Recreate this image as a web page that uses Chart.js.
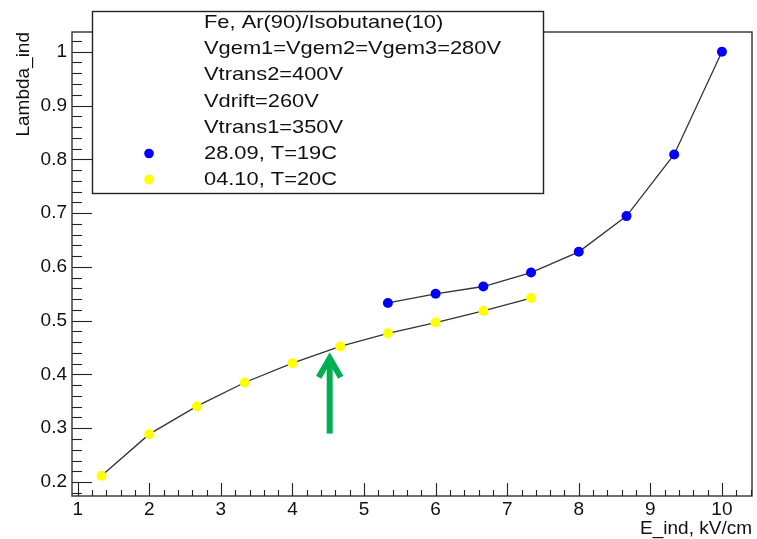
<!DOCTYPE html>
<html>
<head>
<meta charset="utf-8">
<script src="https://cdn.jsdelivr.net/npm/chart.js@4"></script>
<style>
html,body{margin:0;padding:0;background:#fff;}
#wrap{width:757px;height:539px;}
</style>
</head>
<body>
<div id="wrap"><canvas id="c" width="757" height="539"></canvas></div>
<script>
// ---- data ----
const xYellow = [1.333, 2, 2.667, 3.333, 4, 4.667, 5.333, 6, 6.667, 7.333];
const yYellow = [0.2115, 0.289, 0.341, 0.385, 0.421, 0.452, 0.4765, 0.4965, 0.518, 0.542];
const xBlue = [5.333, 6, 6.667, 7.333, 8, 8.667, 9.333, 10];
const yBlue = [0.533, 0.550, 0.5635, 0.5895, 0.628, 0.6944, 0.809, 1.0];
const xTickValues = [1, 2, 3, 4, 5, 6, 7, 8, 9, 10];
const yTickValues = [0.2, 0.3, 0.4, 0.5, 0.6, 0.7, 0.8, 0.9, 1.0];
const yTickLabels = ["0.2", "0.3", "0.4", "0.5", "0.6", "0.7", "0.8", "0.9", "1"];
const legendLines = ["Fe, Ar(90)/Isobutane(10)", "Vgem1=Vgem2=Vgem3=280V", "Vtrans2=400V", "Vdrift=260V", "Vtrans1=350V", "28.09, T=19C", "04.10, T=20C"];
const seriesNames = ["28.09, T=19C", "04.10, T=20C"];
const arrowX = [4.52, 4.52];
const arrowY = [0.290, 0.430];
const xTitle = "E_ind, kV/cm";
const yTitle = "Lambda_ind";

const FONT = "'Liberation Sans', Arial, sans-serif";
const toPts = (xs, ys) => xs.map((x, i) => ({x: x, y: ys[i]}));

const rootPlugin = {
  id: 'rootDecor',
  afterDatasetsDraw(chart) {
    const ctx = chart.ctx;
    const xs = chart.scales.x, ys = chart.scales.y;
    const a = chart.chartArea;
    ctx.save();
    // frame
    ctx.strokeStyle = '#333';
    ctx.lineWidth = 1.4;
    ctx.strokeRect(a.left, a.top, a.right - a.left, a.bottom - a.top);
    // ticks (inside)
    ctx.lineWidth = 1.1;
    ctx.strokeStyle = '#222';
    // y ticks
    const yMin = ys.min, yMax = ys.max;
    for (let k = Math.ceil(yMin * 50 - 1e-6); k <= Math.floor(yMax * 50 + 1e-6); k++) {
      const v = k / 50;
      const major = (k % 5 === 0);
      const p = Math.round(ys.getPixelForValue(v)) + 0.5;
      ctx.beginPath();
      ctx.moveTo(a.left, p);
      ctx.lineTo(a.left + (major ? 20 : 10), p);
      ctx.stroke();
    }
    // x ticks
    for (let k = Math.ceil(xs.min * 5 - 1e-6); k <= Math.floor(xs.max * 5 + 1e-6); k++) {
      const v = k / 5;
      const major = (k % 5 === 0);
      const p = Math.round(xs.getPixelForValue(v)) + 0.5;
      ctx.beginPath();
      ctx.moveTo(p, a.bottom);
      ctx.lineTo(p, a.bottom - (major ? 13 : 6));
      ctx.stroke();
    }
    // green arrow
    const ax = xs.getPixelForValue(arrowX[0]);
    const ay0 = ys.getPixelForValue(arrowY[0]);
    const ay1 = ys.getPixelForValue(arrowY[1]);
    ctx.strokeStyle = '#00b050';
    ctx.lineWidth = 6;
    ctx.lineCap = 'butt';
    ctx.lineJoin = 'miter';
    ctx.beginPath();
    ctx.moveTo(ax, ay0);
    ctx.lineTo(ax, ay1 + 2);
    ctx.stroke();
    ctx.beginPath();
    ctx.moveTo(ax - 11, ay1 + 19);
    ctx.lineTo(ax, ay1);
    ctx.lineTo(ax + 11, ay1 + 19);
    ctx.stroke();
    // legend box
    const L = 92.5, T = 11.5, W = 451, H = 182;
    ctx.fillStyle = '#fff';
    ctx.fillRect(L, T, W, H);
    ctx.strokeStyle = '#222';
    ctx.lineWidth = 1.4;
    ctx.strokeRect(L, T, W, H);
    ctx.fillStyle = '#111';
    ctx.textBaseline = 'middle';
    ctx.textAlign = 'left';
    ctx.font = '19px ' + FONT;
    legendLines.forEach((t, i) => {
      const cy = 23 + i * 26.1;
      ctx.save();
      ctx.translate(204, cy);
      ctx.scale(1.15, 1);
      ctx.fillText(t, 0, 0);
      ctx.restore();
    });
    // legend markers
    const markerColors = [chart.data.datasets[0].pointBackgroundColor, chart.data.datasets[1].pointBackgroundColor];
    [0, 1].forEach(j => {
      const idx = legendLines.indexOf(seriesNames[j]);
      ctx.fillStyle = markerColors[j];
      ctx.beginPath();
      ctx.arc(149, 23 + idx * 26.1, 4.8, 0, Math.PI * 2);
      ctx.fill();
    });
    ctx.restore();
  }
};

new Chart(document.getElementById('c'), {
  type: 'scatter',
  data: {
    datasets: [
      {
        label: seriesNames[0],
        data: toPts(xBlue, yBlue),
        showLine: true,
        borderColor: '#333',
        borderWidth: 1.3,
        pointBackgroundColor: '#0000ff',
        pointBorderWidth: 0,
        pointRadius: 5,
        pointHoverRadius: 5
      },
      {
        label: seriesNames[1],
        data: toPts(xYellow, yYellow),
        showLine: true,
        borderColor: '#333',
        borderWidth: 1.3,
        pointBackgroundColor: '#ffff00',
        pointBorderWidth: 0,
        pointRadius: 5,
        pointHoverRadius: 5
      }
    ]
  },
  options: {
    responsive: false,
    animation: false,
    events: [],
    layout: {padding: {top: 32, right: 3, left: 0, bottom: 0}},
    plugins: {legend: {display: false}, tooltip: {enabled: false}, title: {display: false}},
    scales: {
      x: {
        type: 'linear',
        min: 0.92,
        max: 10.42,
        afterBuildTicks: s => { s.ticks = xTickValues.map(v => ({value: v})); },
        afterFit: s => { s.height = 43; },
        grid: {display: false, drawTicks: false},
        border: {display: false},
        ticks: {
          color: '#111',
          font: {family: FONT, size: 19},
          padding: 2,
          maxRotation: 0,
          autoSkip: false,
          callback: v => String(v)
        },
        title: {
          display: true,
          text: xTitle,
          align: 'end',
          color: '#111',
          font: {family: FONT, size: 19, lineHeight: 1},
          padding: {top: 0, bottom: 1}
        }
      },
      y: {
        type: 'linear',
        min: 0.174,
        max: 1.0367,
        afterBuildTicks: s => { s.ticks = yTickValues.map(v => ({value: v})); },
        afterFit: s => { s.width = 72; },
        grid: {display: false, drawTicks: false},
        border: {display: false},
        ticks: {
          color: '#111',
          font: {family: FONT, size: 19},
          padding: 5,
          autoSkip: false,
          callback: (v, i) => yTickLabels[i]
        },
        title: {
          display: true,
          text: yTitle,
          align: 'end',
          color: '#111',
          font: {family: FONT, size: 19, lineHeight: 1},
          padding: {top: 14, bottom: 0}
        }
      }
    }
  },
  plugins: [rootPlugin]
});
</script>
</body>
</html>
